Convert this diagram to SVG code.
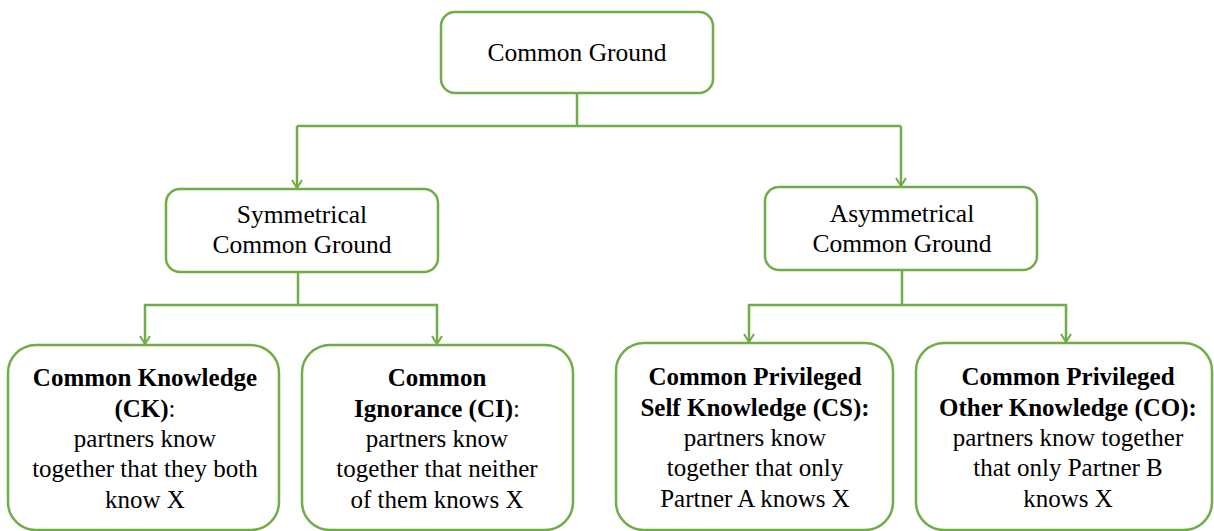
<svg xmlns="http://www.w3.org/2000/svg" width="1214" height="531" viewBox="0 0 1214 531">
<defs>
<style>
.box{fill:#fff;stroke:#70AD47;stroke-width:2.5}
.ln{fill:none;stroke:#70AD47;stroke-width:2.5}
.tx{font-family:"Liberation Serif","Tinos","Times New Roman","DejaVu Serif",serif;fill:#000;text-anchor:middle}
.t1{font-size:25.5px}
.t2{font-size:25px}
.b{font-weight:bold}
</style>
<marker id="ah" viewBox="0 0 12 12" refX="11" refY="6" markerWidth="12" markerHeight="12" markerUnits="userSpaceOnUse" orient="auto">
<path d="M3 1 L11 6 L3 11" fill="none" stroke="#70AD47" stroke-width="2"/>
</marker>
</defs>
<rect width="1214" height="531" fill="#fff"/>
<g id="connectors">
<path class="ln" d="M577 93 V126"/>
<path class="ln" d="M297 126 H901"/>
<path class="ln" d="M297 126 V188" marker-end="url(#ah)"/>
<path class="ln" d="M901 126 V186" marker-end="url(#ah)"/>
<path class="ln" d="M298 272 V305 H145 V344" marker-end="url(#ah)"/>
<path class="ln" d="M298 305 H437 V344" marker-end="url(#ah)"/>
<path class="ln" d="M902 270 V305 H749 V342" marker-end="url(#ah)"/>
<path class="ln" d="M902 305 H1066 V342" marker-end="url(#ah)"/>
</g>
<g class="tx" font-family="Liberation Serif, Tinos, Times New Roman, serif">
<g id="n-cg">
<rect class="box" x="441" y="12" width="272" height="81" rx="14"/>
<text class="t1" x="577" y="61">Common Ground</text>
</g>
<g id="n-sym">
<rect class="box" x="166" y="189" width="272" height="83" rx="14"/>
<text class="t1" x="302" y="223">Symmetrical</text>
<text class="t1" x="302" y="253">Common Ground</text>
</g>
<g id="n-asym">
<rect class="box" x="765" y="187" width="272" height="83" rx="14"/>
<text class="t1" x="902" y="222">Asymmetrical</text>
<text class="t1" x="902" y="252">Common Ground</text>
</g>
<g id="n-ck">
<rect class="box" x="8" y="345" width="271" height="185" rx="28"/>
<text class="t2 b" x="145" y="386">Common Knowledge</text>
<text class="t2" x="145" y="417"><tspan class="b">(CK)</tspan>:</text>
<text class="t2" x="145" y="447">partners know</text>
<text class="t2" x="145" y="477">together that they both</text>
<text class="t2" x="145" y="508">know X</text>
</g>
<g id="n-ci">
<rect class="box" x="302" y="345" width="271" height="185" rx="28"/>
<text class="t2 b" x="437" y="386">Common</text>
<text class="t2" x="437" y="417"><tspan class="b">Ignorance (CI)</tspan>:</text>
<text class="t2" x="437" y="447">partners know</text>
<text class="t2" x="437" y="477">together that neither</text>
<text class="t2" x="437" y="508">of them knows X</text>
</g>
<g id="n-cs">
<rect class="box" x="616" y="343" width="277" height="187" rx="28"/>
<text class="t2 b" x="755" y="385">Common Privileged</text>
<text class="t2 b" x="755" y="416">Self Knowledge (CS):</text>
<text class="t2" x="755" y="446">partners know</text>
<text class="t2" x="755" y="476">together that only</text>
<text class="t2" x="755" y="507">Partner A knows X</text>
</g>
<g id="n-co">
<rect class="box" x="916" y="343" width="296" height="187" rx="28"/>
<text class="t2 b" x="1068" y="385">Common Privileged</text>
<text class="t2 b" x="1068" y="416">Other Knowledge (CO):</text>
<text class="t2" x="1068" y="446">partners know together</text>
<text class="t2" x="1068" y="476">that only Partner B</text>
<text class="t2" x="1068" y="507">knows X</text>
</g>
</g>
</svg>
